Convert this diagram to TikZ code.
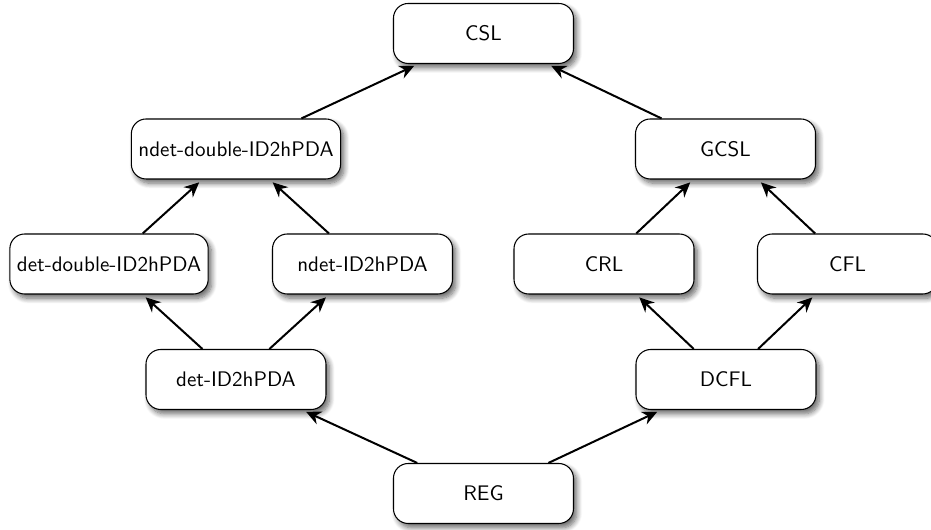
\documentclass[tikz,border=0pt]{standalone}
\usetikzlibrary{arrows.meta,shadows.blur}
\begin{document}
\begin{tikzpicture}[
  font=\sffamily,
  box/.style={draw=black, line width=0.5pt, fill=white, rounded corners=7pt,
    minimum width=3cm, minimum height=1cm, inner sep=3.33pt,
    blur shadow={shadow xshift=1.6pt, shadow yshift=-2pt, shadow blur radius=2.5pt, shadow blur steps=8, shadow opacity=60}},
  conn/.style={line width=0.95pt, -{Stealth[length=7pt,width=6.5pt]}, shorten >=2pt}
]
\useasboundingbox (0,0) rectangle (15.517,-8.817);
\node[box] (csl)  at (8.058,-0.558) {CSL};
\node[box] (reg)  at (8.058,-8.225) {REG};
\node[box] (ndd)  at (3.933,-2.483) {ndet-double-ID2hPDA};
\node[box] (gcsl) at (12.092,-2.483) {GCSL};
\node[box] (dd)   at (1.817,-4.4) {det-double-ID2hPDA};
\node[box] (nd)   at (6.042,-4.4) {ndet-ID2hPDA};
\node[box] (crl)  at (10.067,-4.4) {CRL};
\node[box] (cfl)  at (14.125,-4.4) {CFL};
\node[box] (det)  at (3.933,-6.325) {det-ID2hPDA};
\node[box] (dcfl) at (12.1,-6.325) {DCFL};
\draw[conn] (reg) -- (det);
\draw[conn] (reg) -- (dcfl);
\draw[conn] (det) -- (dd);
\draw[conn] (det) -- (nd);
\draw[conn] (dd) -- (ndd);
\draw[conn] (nd) -- (ndd);
\draw[conn] (ndd) -- (csl);
\draw[conn] (dcfl) -- (crl);
\draw[conn] (dcfl) -- (cfl);
\draw[conn] (crl) -- (gcsl);
\draw[conn] (cfl) -- (gcsl);
\draw[conn] (gcsl) -- (csl);
\end{tikzpicture}
\end{document}
